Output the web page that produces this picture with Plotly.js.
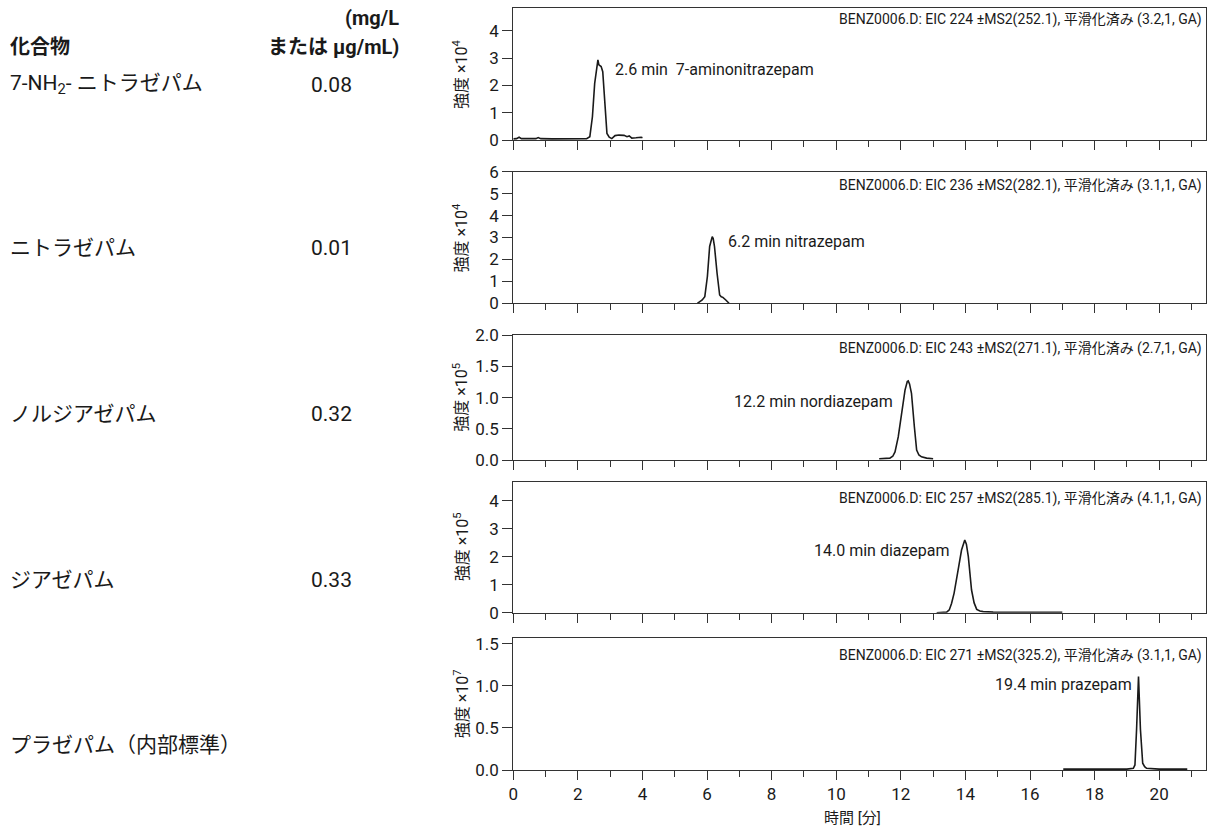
<!DOCTYPE html>
<html>
<head>
<meta charset="utf-8">
<script src="https://cdn.plot.ly/plotly-3.0.1.min.js"></script>
<style>html,body{margin:0;padding:0;background:#fff;}#chart{width:1211px;height:830px;}</style>
</head>
<body>
<div id="chart"></div>
<script>
// ---- data ----
const compounds = ["7-NH<sub>2</sub>- ニトラゼパム", "ニトラゼパム", "ノルジアゼパム", "ジアゼパム", "プラゼパム（内部標準）"];
const concentrations = ["0.08", "0.01", "0.32", "0.33", ""];
const headers = [
  "BENZ0006.D: EIC 224 ±MS2(252.1), 平滑化済み (3.2,1, GA)",
  "BENZ0006.D: EIC 236 ±MS2(282.1), 平滑化済み (3.1,1, GA)",
  "BENZ0006.D: EIC 243 ±MS2(271.1), 平滑化済み (2.7,1, GA)",
  "BENZ0006.D: EIC 257 ±MS2(285.1), 平滑化済み (4.1,1, GA)",
  "BENZ0006.D: EIC 271 ±MS2(325.2), 平滑化済み (3.1,1, GA)"
];
const peakLabels = ["2.6 min\u00a0\u00a07-aminonitrazepam", "6.2 min nitrazepam", "12.2 min nordiazepam", "14.0 min diazepam", "19.4 min prazepam"];
const peakLabelX = [3.1, 6.6, 6.77, 9.25, 14.85];
const peakLabelY = [2.59, 2.81, 0.935, 2.21, 1.01];
const yExponents = ["4", "4", "5", "5", "7"];
const yTicks1 = [0, 1, 2, 3, 4];
const yTicks2 = [0, 1, 2, 3, 4, 5, 6];
const yTicks3 = [0, 0.5, 1.0, 1.5, 2.0];
const yTicks4 = [0, 1, 2, 3, 4];
const yTicks5 = [0, 0.5, 1.0, 1.5];
const xTicks = [0, 2, 4, 6, 8, 10, 12, 14, 16, 18, 20];

const x1 = [0.0, 0.1, 0.18, 0.25, 0.5, 0.7, 0.77, 0.85, 1.2, 1.6, 2.0, 2.27, 2.37, 2.45, 2.52, 2.59, 2.62, 2.65, 2.72, 2.77, 2.84, 2.9, 2.97, 3.05, 3.15, 3.27, 3.43, 3.52, 3.59, 3.67, 3.8, 3.9, 3.96, 4.0];
const y1 = [0.04, 0.05, 0.1, 0.05, 0.05, 0.05, 0.09, 0.05, 0.04, 0.04, 0.04, 0.05, 0.12, 0.85, 2.07, 2.85, 2.93, 2.75, 2.69, 2.5, 1.22, 0.24, 0.1, 0.05, 0.16, 0.18, 0.17, 0.12, 0.15, 0.07, 0.08, 0.1, 0.1, 0.08];
const x2 = [5.70, 5.78, 5.85, 5.93, 6.01, 6.08, 6.13, 6.16, 6.19, 6.23, 6.31, 6.39, 6.44, 6.49, 6.58, 6.68];
const y2 = [0.0, 0.07, 0.15, 0.3, 1.22, 2.59, 2.95, 3.04, 2.95, 2.59, 1.37, 0.38, 0.3, 0.27, 0.15, 0.0];
const x3 = [11.33, 11.5, 11.66, 11.75, 11.82, 11.92, 12.02, 12.13, 12.2, 12.23, 12.27, 12.33, 12.42, 12.49, 12.56, 12.64, 12.8, 13.0];
const y3 = [0.02, 0.02, 0.03, 0.06, 0.13, 0.37, 0.75, 1.12, 1.26, 1.27, 1.22, 1.07, 0.53, 0.16, 0.08, 0.05, 0.03, 0.02];
const x4 = [13.11, 13.3, 13.42, 13.5, 13.57, 13.65, 13.73, 13.8, 13.88, 13.94, 13.98, 14.03, 14.09, 14.19, 14.27, 14.35, 14.45, 14.55, 14.86, 15.5, 16.2, 17.0];
const y4 = [0.0, 0.0, 0.02, 0.1, 0.33, 0.7, 1.17, 1.7, 2.24, 2.52, 2.6, 2.45, 2.0, 0.81, 0.35, 0.12, 0.06, 0.04, 0.02, 0.01, 0.01, 0.01];
const x5 = [17.03, 17.5, 18.0, 18.5, 19.0, 19.2, 19.25, 19.3, 19.36, 19.42, 19.49, 19.55, 19.61, 20.0, 20.5, 20.87];
const y5 = [0.01, 0.01, 0.01, 0.01, 0.01, 0.02, 0.06, 0.48, 1.11, 0.48, 0.08, 0.04, 0.02, 0.01, 0.01, 0.01];

// ---- layout helpers ----
const W = 1211, H = 830;
const NARROW = 'Roboto, "Noto Sans CJK JP", sans-serif';
const JPF = 'Roboto, "Noto Sans CJK JP", sans-serif';
const INK = '#1a1a1a';
const px = v => v / W;
const py = v => 1 - v / H;

const xDom = [px(513.3), px(1206)];
const panelPx = [[8, 140], [171.7, 303.3], [335.3, 460], [481.7, 612.7], [638.3, 770]];
const yRanges = [[0, 4.83], [0, 6], [0, 2.0], [0, 4.68], [0, 1.564]];
const yTickSets = [yTicks1, yTicks2, yTicks3, yTicks4, yTicks5];
const yFormats = ["d", "d", ".1f", "d", ".1f"];
const headerPy = [20, 185, 348, 498, 655];
const xs = [x1, x2, x3, x4, x5];
const ys = [y1, y2, y3, y4, y5];

const data = [];
const layout = {
  width: W, height: H,
  margin: {l: 0, r: 0, t: 0, b: 0},
  paper_bgcolor: '#fff', plot_bgcolor: '#fff',
  showlegend: false,
  font: {family: NARROW, color: INK, size: 14},
  annotations: []
};

for (let i = 0; i < 5; i++) {
  const s = i === 0 ? '' : String(i + 1);
  data.push({
    type: 'scatter', mode: 'lines', x: xs[i], y: ys[i],
    xaxis: 'x' + s, yaxis: 'y' + s,
    line: {color: INK, width: 1.6}, hoverinfo: 'skip'
  });
  layout['xaxis' + s] = {
    domain: xDom, range: [0, 21.45], anchor: 'y' + s,
    showline: true, linecolor: '#333', linewidth: 1, mirror: true,
    ticks: 'outside', ticklen: 9, tickwidth: 1, tickcolor: '#333',
    tickmode: 'array', tickvals: xTicks,
    minor: {ticks: 'outside', ticklen: 6, tickwidth: 1, tickcolor: '#333', dtick: 1, tick0: 0, showgrid: false},
    showgrid: false, zeroline: false,
    showticklabels: i === 4,
    tickfont: {family: NARROW, size: 17, color: INK},
    fixedrange: true
  };
  layout['yaxis' + s] = {
    domain: [py(panelPx[i][1]), py(panelPx[i][0])], range: yRanges[i], anchor: 'x' + s,
    showline: true, linecolor: '#333', linewidth: 1, mirror: true,
    ticks: 'outside', ticklen: 10, tickwidth: 1, tickcolor: '#333',
    tickmode: 'array', tickvals: yTickSets[i], tickformat: yFormats[i],
    showgrid: false, zeroline: false,
    tickfont: {family: NARROW, size: 17, color: INK},
    fixedrange: true
  };
  // header (file / EIC info)
  layout.annotations.push({
    xref: 'paper', yref: 'paper', x: px(1204), y: py(headerPy[i]),
    xanchor: 'right', yanchor: 'middle', showarrow: false,
    text: headers[i], font: {family: JPF, size: 14, color: INK}
  });
  // peak label
  layout.annotations.push({
    xref: 'x' + s, yref: 'y' + s, x: peakLabelX[i], y: peakLabelY[i],
    xanchor: 'left', yanchor: 'middle', showarrow: false,
    text: peakLabels[i], font: {family: NARROW, size: 16, color: INK}
  });
  // y-axis title
  layout.annotations.push({
    xref: 'paper', yref: 'paper', x: px(461), y: py((panelPx[i][0] + panelPx[i][1]) / 2),
    xanchor: 'center', yanchor: 'middle', showarrow: false, textangle: -90,
    text: '強度 ×10<sup>' + yExponents[i] + '</sup>', font: {family: JPF, size: 16, color: INK}
  });
  // left column: compound and concentration
  const rowPy = [85, 248, 414, 580, 745][i];
  layout.annotations.push({
    xref: 'paper', yref: 'paper', x: px(8), y: py(rowPy),
    xanchor: 'left', yanchor: 'middle', showarrow: false,
    text: compounds[i], font: {family: JPF, size: 21, color: INK}
  });
  if (concentrations[i]) {
    layout.annotations.push({
      xref: 'paper', yref: 'paper', x: px(331), y: py(rowPy),
      xanchor: 'center', yanchor: 'middle', showarrow: false,
      text: concentrations[i], font: {family: NARROW, size: 21, color: INK}
    });
  }
}

// column headers
layout.annotations.push(
  {xref: 'paper', yref: 'paper', x: px(8), y: py(47), xanchor: 'left', yanchor: 'middle', showarrow: false,
   text: '<b>化合物</b>', font: {family: JPF, size: 20, color: INK}},
  {xref: 'paper', yref: 'paper', x: px(401), y: py(18), xanchor: 'right', yanchor: 'middle', showarrow: false,
   text: '<b>(mg/L</b>', font: {family: JPF, size: 20, color: INK}},
  {xref: 'paper', yref: 'paper', x: px(401), y: py(47), xanchor: 'right', yanchor: 'middle', showarrow: false,
   text: '<b>または μg/mL)</b>', font: {family: JPF, size: 20, color: INK}},
  {xref: 'paper', yref: 'paper', x: px(852), y: py(818), xanchor: 'center', yanchor: 'middle', showarrow: false,
   text: '時間 [分]', font: {family: JPF, size: 15, color: INK}}
);

Plotly.newPlot('chart', data, layout, {displayModeBar: false, staticPlot: true});
</script>
</body>
</html>
